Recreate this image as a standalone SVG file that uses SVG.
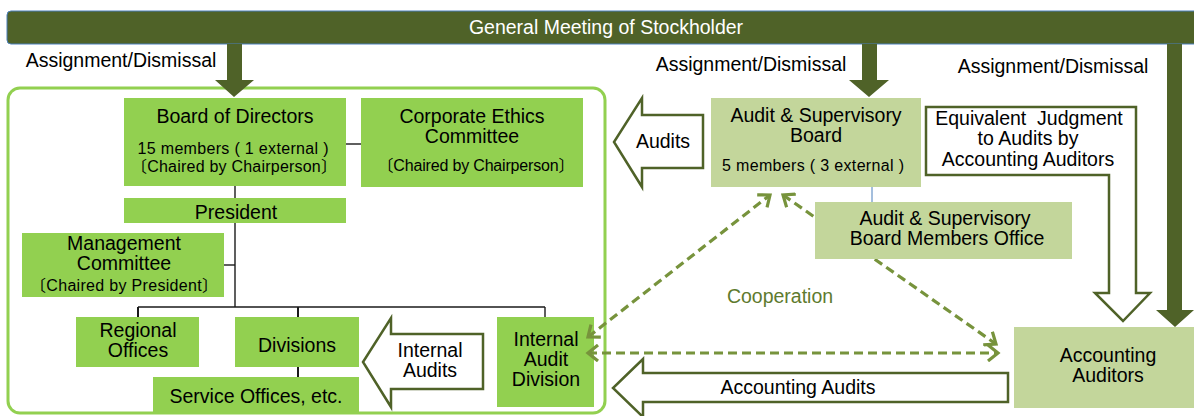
<svg xmlns="http://www.w3.org/2000/svg" width="1194" height="416" viewBox="0 0 1194 416">
<style>
text{font-family:"Liberation Sans","Noto Sans CJK JP",Arial,sans-serif;text-anchor:middle;fill:#000}
.b{font-size:19.5px}
.s{font-size:16px}
.w{fill:#fff}
.g1{fill:#92d050}
.g2{fill:#c3d69b}
.dk{fill:#4f6228}
.hol{fill:#fff;stroke:#4f6228;stroke-width:2.5;stroke-linejoin:miter}
.ln{stroke:#1a1a1a;stroke-width:1.4;fill:none}
.lnb{stroke:#1a1a1a;stroke-width:2;fill:none}
.dash{stroke:#77933c;stroke-width:3.2;stroke-dasharray:9 5;fill:none;marker-start:url(#chev);marker-end:url(#chev)}
.coop{fill:#5e7a2e}
</style>
<defs>
<marker id="chev" viewBox="0 0 16 18" refX="12" refY="9" markerWidth="16" markerHeight="18" markerUnits="userSpaceOnUse" orient="auto-start-reverse">
<path d="M2,1 L12,9 L2,17" fill="none" stroke="#77933c" stroke-width="3.2"/>
</marker>
</defs>

<g id="general-meeting">
<rect x="7" y="11" width="1200" height="33" rx="4" class="dk" stroke="#4a7ebb" stroke-width="1"/>
<text x="606" y="34" class="b w">General Meeting of Stockholder</text>
</g>

<g id="labels">
<text x="121" y="67" class="b">Assignment/Dismissal</text>
<text x="751" y="71" class="b">Assignment/Dismissal</text>
<text x="1053" y="73" class="b">Assignment/Dismissal</text>
<text x="780" y="303" class="b coop">Cooperation</text>
</g>

<g id="company">
<rect x="8" y="88" width="597" height="325" rx="12" fill="none" stroke="#92d050" stroke-width="3"/>
</g>

<g id="board-of-directors">
<rect x="124" y="98" width="222" height="88" class="g1"/>
<text x="235" y="123" class="b">Board of Directors</text>
<text x="233" y="154" class="s" textLength="191" lengthAdjust="spacing">15 members ( 1 external )</text>
<text x="234" y="172" class="s" textLength="206" lengthAdjust="spacing">〔Chaired by Chairperson〕</text>
</g>

<g id="ethics-committee">
<rect x="361" y="98" width="222" height="89" class="g1"/>
<text x="472" y="123" class="b">Corporate Ethics</text>
<text x="472" y="143" class="b">Committee</text>
<text x="476" y="171" class="s" textLength="197" lengthAdjust="spacing">〔Chaired by Chairperson〕</text>
</g>

<g id="president">
<rect x="124" y="198" width="222" height="25" class="g1"/>
<text x="236" y="219" class="b">President</text>
</g>

<g id="management-committee">
<rect x="22" y="233" width="202" height="64" class="g1"/>
<text x="124" y="250" class="b">Management</text>
<text x="124" y="270" class="b">Committee</text>
<text x="124" y="291" class="s" textLength="188" lengthAdjust="spacing">〔Chaired by President〕</text>
</g>

<g id="regional-offices">
<rect x="76" y="317" width="123" height="50" class="g1"/>
<text x="138" y="337" class="b">Regional</text>
<text x="138" y="357" class="b">Offices</text>
</g>

<g id="divisions">
<rect x="235" y="317" width="124" height="50" class="g1"/>
<text x="297" y="352" class="b">Divisions</text>
</g>

<g id="service-offices">
<rect x="153" y="377" width="206" height="35" class="g1"/>
<text x="256" y="403" class="b">Service Offices, etc.</text>
</g>

<g id="internal-audits-arrow">
<polygon points="483,334 391,334 391,318 363,362 391,407 391,389 483,389" class="hol"/>
<text x="430" y="357" class="b">Internal</text>
<text x="430" y="377" class="b">Audits</text>
</g>

<g id="internal-audit-division">
<rect x="497" y="317" width="97" height="90" class="g1"/>
<text x="546" y="346" class="b">Internal</text>
<text x="546" y="366" class="b">Audit</text>
<text x="546" y="386" class="b">Division</text>
</g>

<g id="audits-arrow">
<polygon points="703,115 642,115 642,98 614,142 642,187 642,168 703,168" class="hol"/>
<text x="663" y="148" class="b">Audits</text>
</g>

<g id="audit-supervisory-board">
<rect x="711" y="98" width="210" height="89" class="g2"/>
<text x="816" y="122" class="b">Audit &amp; Supervisory</text>
<text x="816" y="142" class="b">Board</text>
<text x="813" y="171" class="s" textLength="182" lengthAdjust="spacing">5 members ( 3 external )</text>
</g>

<g id="equivalent-judgment-arrow">
<polygon points="926,107 1136,107 1136,293 1150,293 1123,321 1095,293 1109,293 1109,175 926,175" class="hol"/>
<text x="1029" y="125" class="b" style="white-space:pre">Equivalent  Judgment</text>
<text x="1028" y="145" class="b">to Audits by</text>
<text x="1028" y="166" class="b">Accounting Auditors</text>
</g>

<g id="accounting-auditors">
<rect x="1014" y="327" width="185" height="81" class="g2"/>
<text x="1108" y="362" class="b">Accounting</text>
<text x="1108" y="382" class="b">Auditors</text>
</g>

<g id="accounting-audits-arrow">
<polygon points="1008,373 643,373 643,359 613,388 643,417 643,402 1008,402" class="hol"/>
<text x="798" y="394" class="b">Accounting Audits</text>
</g>

<g id="connectors">
<polygon points="227,44 242,44 242,80 254,80 234,97 215,80 227,80" class="dk"/>
<polygon points="862,44 877,44 877,80 889,80 869,97 849,80 862,80" class="dk"/>
<polygon points="1167,44 1182,44 1182,310 1194,310 1175,327 1156,310 1167,310" class="dk"/>
<line x1="235" y1="186" x2="235" y2="198" class="ln"/>
<line x1="346" y1="144" x2="361" y2="144" class="ln"/>
<line x1="235" y1="223" x2="235" y2="307" class="ln"/>
<line x1="224" y1="265" x2="235" y2="265" class="ln"/>
<line x1="138" y1="307" x2="545" y2="307" class="ln"/>
<line x1="138" y1="307" x2="138" y2="317" class="lnb"/>
<line x1="298" y1="307" x2="298" y2="317" class="lnb"/>
<line x1="545" y1="307" x2="545" y2="317" class="ln"/>
<line x1="298" y1="367" x2="298" y2="377" class="lnb"/>
<line x1="872" y1="187" x2="872" y2="202" stroke="#4a7ebb" stroke-width="1"/>
<line x1="588" y1="337" x2="770" y2="195" class="dash"/>
<line x1="783" y1="195" x2="996" y2="344" class="dash"/>
<line x1="588" y1="353" x2="998" y2="353" class="dash"/>
</g>

<g id="board-members-office">
<rect x="815" y="202" width="257" height="57" class="g2"/>
<text x="945" y="225" class="b">Audit &amp; Supervisory</text>
<text x="947" y="245" class="b">Board Members Office</text>
</g>
</svg>
